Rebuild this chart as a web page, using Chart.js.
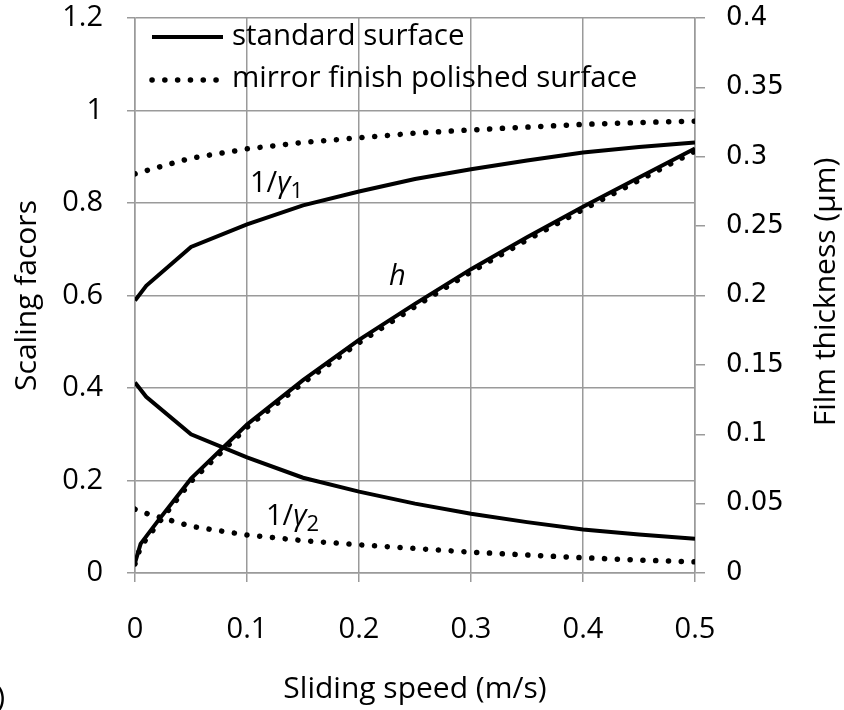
<!DOCTYPE html>
<html>
<head>
<meta charset="utf-8">
<script src="https://cdn.jsdelivr.net/npm/chart.js@4/dist/chart.umd.min.js"></script>
<style>
  html, body { margin: 0; padding: 0; background: #fff; }
  #wrap { width: 844px; height: 710px; }
</style>
</head>
<body>
<div id="wrap"><canvas id="chart" width="844" height="710"></canvas></div>
<script>
// sliding speed (m/s)
var speed = [0, 0.01, 0.05, 0.1, 0.15, 0.2, 0.25, 0.3, 0.35, 0.4, 0.45, 0.5];
var speedH = [0, 0.005, 0.02, 0.05, 0.1, 0.15, 0.2, 0.25, 0.3, 0.35, 0.4, 0.45, 0.5];

// scaling factors (left axis)
var stdGamma1 = [0.589, 0.621, 0.705, 0.754, 0.795, 0.825, 0.852, 0.873, 0.892, 0.909, 0.921, 0.931];
var mirGamma1 = [0.863, 0.870, 0.897, 0.917, 0.931, 0.941, 0.951, 0.958, 0.964, 0.970, 0.974, 0.977];
var stdGamma2 = [0.412, 0.381, 0.300, 0.250, 0.206, 0.176, 0.150, 0.128, 0.110, 0.094, 0.083, 0.074];
var mirGamma2 = [0.138, 0.129, 0.101, 0.082, 0.070, 0.061, 0.053, 0.045, 0.039, 0.033, 0.028, 0.024];

// film thickness h, um (right axis)
var stdH = [0.0073, 0.021, 0.037, 0.068, 0.107, 0.139, 0.168, 0.194, 0.219, 0.242, 0.264, 0.285, 0.306];
var mirH = [0.0065, 0.019, 0.035, 0.066, 0.105, 0.137, 0.166, 0.192, 0.217, 0.240, 0.262, 0.283, 0.304];

var xTicks = [0, 0.1, 0.2, 0.3, 0.4, 0.5];
var xTickLabels = ['0', '0.1', '0.2', '0.3', '0.4', '0.5'];
var leftTicks = [0, 0.2, 0.4, 0.6, 0.8, 1, 1.2];
var leftTickLabels = ['0', '0.2', '0.4', '0.6', '0.8', '1', '1.2'];
var rightTicks = [0, 0.05, 0.1, 0.15, 0.2, 0.25, 0.3, 0.35, 0.4];
var rightTickLabels = ['0', '0.05', '0.1', '0.15', '0.2', '0.25', '0.3', '0.35', '0.4'];

var legendNames = ['standard surface', 'mirror finish polished surface'];

var FONT = "'Open Sans', sans-serif";
var GRID = '#9a9a9a';
var DOTS = [0.1, 12.7];

function pts(xs, ys) {
  return ys.map(function(v, i) { return { x: xs[i], y: v }; });
}

function solid(data, axis) {
  return { data: data, yAxisID: axis, borderColor: '#000', borderWidth: 4, pointRadius: 0, tension: 0, fill: false };
}

function dotted(data, axis) {
  return { data: data, yAxisID: axis, borderColor: '#000', borderWidth: 5.5, borderDash: DOTS, borderCapStyle: 'round',
    pointRadius: 0, tension: 0, fill: false };
}

function setTicks(values) {
  return function(scale) {
    scale.ticks = values.map(function(v) { return { value: v }; });
  };
}

function tickLabel(values, labels) {
  return function(value) {
    for (var i = 0; i < values.length; i++) {
      if (Math.abs(values[i] - value) < 1e-9) return labels[i];
    }
    return '';
  };
}

// fixed box for the vertical axes so the plot area sits where it should
function fitY(w) {
  return function(scale) {
    scale.width = w;
    scale.paddingTop = 18;
    scale.paddingBottom = 0;
  };
}

// legend, curve names, right title, panel mark
var extras = {
  id: 'extras',
  afterDraw: function(chart) {
    var ctx = chart.ctx;
    ctx.save();
    ctx.fillStyle = '#000';
    ctx.strokeStyle = '#000';

    // legend
    ctx.lineWidth = 4;
    ctx.beginPath();
    ctx.moveTo(152, 37);
    ctx.lineTo(223, 37);
    ctx.stroke();
    ctx.lineWidth = 5.5;
    ctx.lineCap = 'round';
    ctx.setLineDash(DOTS);
    ctx.beginPath();
    ctx.moveTo(152, 80);
    ctx.lineTo(222, 80);
    ctx.stroke();
    ctx.setLineDash([]);
    ctx.font = '29.5px ' + FONT;
    ctx.textBaseline = 'middle';
    ctx.textAlign = 'left';
    ctx.fillText(legendNames[0], 232, 37);
    ctx.fillText(legendNames[1], 232, 79);

    // curve names
    ctx.textBaseline = 'alphabetic';
    function gammaLabel(x, y, sub) {
      ctx.font = '29px ' + FONT;
      ctx.fillText('1/', x, y);
      var w = ctx.measureText('1/').width;
      ctx.font = 'italic 29px ' + FONT;
      ctx.fillText('γ', x + w, y);
      w += ctx.measureText('γ').width;
      ctx.font = '22px ' + FONT;
      ctx.fillText(sub, x + w, y + 6);
    }
    gammaLabel(250, 192, '1');
    gammaLabel(266, 525, '2');
    ctx.font = 'italic 29px ' + FONT;
    ctx.fillText('h', 389, 285);

    // right axis title, reads bottom to top
    ctx.save();
    ctx.translate(826, 292);
    ctx.rotate(-Math.PI / 2);
    ctx.textAlign = 'center';
    ctx.textBaseline = 'middle';
    ctx.font = '30px ' + FONT;
    ctx.fillText('Film thickness (µm)', 0, 0);
    ctx.restore();

    // cut off panel mark
    ctx.textAlign = 'right';
    ctx.textBaseline = 'middle';
    ctx.font = '30px ' + FONT;
    ctx.fillText('(a)', 5, 698);
    ctx.restore();
  }
};

var ctx = document.getElementById('chart');
var chart = new Chart(ctx, {
  type: 'line',
  data: {
    datasets: [
      solid(pts(speed, stdGamma1), 'y'),
      dotted(pts(speed, mirGamma1), 'y'),
      solid(pts(speed, stdGamma2), 'y'),
      dotted(pts(speed, mirGamma2), 'y'),
      solid(pts(speedH, stdH), 'y2'),
      dotted(pts(speedH, mirH), 'y2')
    ]
  },
  options: {
    responsive: false,
    animation: false,
    layout: { padding: 0 },
    plugins: { legend: { display: false }, tooltip: { enabled: false } },
    scales: {
      x: {
        type: 'linear', min: 0, max: 0.5,
        afterBuildTicks: setTicks(xTicks),
        afterFit: function(scale) { scale.height = 137; },
        grid: { color: GRID, lineWidth: 1.5, tickLength: 9 },
        border: { color: GRID, width: 1.5 },
        ticks: { color: '#000', font: { family: FONT, size: 29 }, padding: 30, maxRotation: 0,
          callback: tickLabel(xTicks, xTickLabels) },
        title: { display: true, text: 'Sliding speed (m/s)', color: '#000', font: { family: FONT, size: 30 },
          padding: { top: 0, bottom: 3 } }
      },
      y: {
        position: 'left', min: 0, max: 1.2,
        afterBuildTicks: setTicks(leftTicks),
        afterFit: fitY(135),
        grid: { color: GRID, lineWidth: 1.5, tickLength: 8 },
        border: { color: GRID, width: 1.5 },
        ticks: { color: '#000', font: { family: FONT, size: 29 }, padding: 24,
          callback: tickLabel(leftTicks, leftTickLabels) },
        title: { display: true, text: 'Scaling facors', color: '#000', font: { family: FONT, size: 30 },
          padding: { top: 9, bottom: 0 } }
      },
      y2: {
        position: 'right', min: 0, max: 0.4,
        afterBuildTicks: setTicks(rightTicks),
        afterFit: fitY(149),
        grid: { drawOnChartArea: false, color: GRID, lineWidth: 1.5, tickLength: 10 },
        border: { color: GRID, width: 1.5 },
        ticks: { color: '#000', font: { family: 'DejaVu Sans', size: 26 }, padding: 21,
          callback: tickLabel(rightTicks, rightTickLabels) }
      }
    }
  },
  plugins: [extras]
});
</script>
</body>
</html>
